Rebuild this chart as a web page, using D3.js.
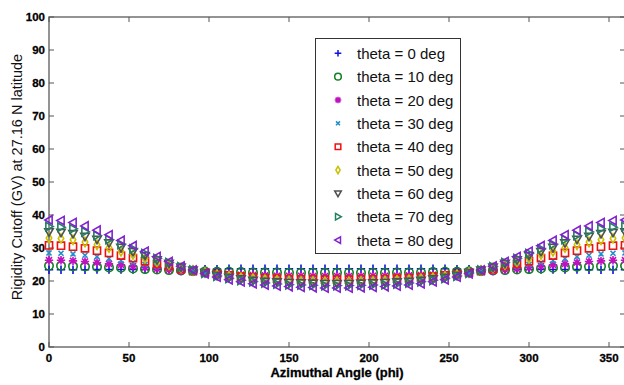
<!DOCTYPE html>
<html><head><meta charset="utf-8">
<script src="https://cdn.jsdelivr.net/npm/d3@7"></script>
<style>
html,body{margin:0;padding:0;background:#fff;}
svg{display:block;}
</style></head>
<body>
<svg id="chart" width="624" height="385"></svg>
<script>
const phi = [0,7.5,15,22.5,30,37.5,45,52.5,60,67.5,75,82.5,90,97.5,105,112.5,120,127.5,135,142.5,150,157.5,165,172.5,180,187.5,195,202.5,210,217.5,225,232.5,240,247.5,255,262.5,270,277.5,285,292.5,300,307.5,315,322.5,330,337.5,345,352.5,360];

const theta0  = [23.4,23.4,23.4,23.4,23.5,23.5,23.5,23.5,23.5,23.6,23.6,23.6,23.6,23.6,23.6,23.7,23.7,23.7,23.7,23.7,23.7,23.7,23.7,23.7,23.7,23.7,23.7,23.7,23.7,23.7,23.7,23.7,23.7,23.7,23.6,23.6,23.6,23.6,23.6,23.6,23.5,23.5,23.5,23.5,23.5,23.4,23.4,23.4,23.4];
const theta10 = [24.6,24.6,24.5,24.4,24.3,24.1,24.0,23.8,23.6,23.5,23.3,23.2,23.0,22.9,22.8,22.8,22.7,22.6,22.6,22.6,22.5,22.5,22.5,22.5,22.5,22.5,22.5,22.5,22.5,22.6,22.6,22.6,22.7,22.8,22.8,22.9,23.0,23.2,23.3,23.5,23.6,23.8,24.0,24.1,24.3,24.4,24.5,24.6,24.6];
const theta20 = [26.3,26.3,26.1,25.9,25.6,25.2,24.9,24.5,24.1,23.7,23.4,23.0,22.8,22.5,22.3,22.1,21.9,21.8,21.7,21.6,21.6,21.6,21.5,21.5,21.5,21.5,21.5,21.6,21.6,21.6,21.7,21.8,21.9,22.1,22.3,22.5,22.8,23.0,23.4,23.7,24.1,24.5,24.9,25.2,25.6,25.9,26.1,26.3,26.3];
const theta30 = [28.5,28.4,28.2,27.8,27.4,26.8,26.2,25.6,25.0,24.4,23.9,23.3,22.9,22.5,22.1,21.8,21.6,21.4,21.2,21.1,21.0,21.0,20.9,20.9,20.9,20.9,20.9,21.0,21.0,21.1,21.2,21.4,21.6,21.8,22.1,22.5,22.9,23.3,23.9,24.4,25.0,25.6,26.2,26.8,27.4,27.8,28.2,28.4,28.5];
const theta40 = [30.8,30.7,30.4,29.9,29.2,28.5,27.7,26.9,26.0,25.2,24.5,23.7,23.1,22.6,22.1,21.7,21.3,21.1,20.9,20.7,20.6,20.5,20.5,20.4,20.4,20.4,20.5,20.5,20.6,20.7,20.9,21.1,21.3,21.7,22.1,22.6,23.1,23.7,24.5,25.2,26.0,26.9,27.7,28.5,29.2,29.9,30.4,30.7,30.8];
const theta50 = [33.0,32.9,32.5,31.8,31.0,30.1,29.0,28.0,26.9,25.9,25.0,24.0,23.2,22.6,21.9,21.4,21.0,20.7,20.4,20.2,20.0,19.9,19.9,19.8,19.8,19.8,19.9,19.9,20.0,20.2,20.4,20.7,21.0,21.4,21.9,22.6,23.2,24.0,25.0,25.9,26.9,28.0,29.0,30.1,31.0,31.8,32.5,32.9,33.0];
const theta60 = [34.9,34.7,34.3,33.5,32.6,31.5,30.2,28.9,27.7,26.4,25.3,24.2,23.3,22.5,21.7,21.1,20.6,20.2,19.9,19.7,19.5,19.4,19.3,19.2,19.2,19.2,19.3,19.4,19.5,19.7,19.9,20.2,20.6,21.1,21.7,22.5,23.3,24.2,25.3,26.4,27.7,28.9,30.2,31.5,32.6,33.5,34.3,34.7,34.9];
const theta70 = [36.5,36.3,35.8,34.9,33.8,32.6,31.1,29.7,28.3,26.8,25.6,24.3,23.3,22.4,21.5,20.8,20.2,19.8,19.4,19.1,18.9,18.8,18.7,18.6,18.6,18.6,18.7,18.8,18.9,19.1,19.4,19.8,20.2,20.8,21.5,22.4,23.3,24.3,25.6,26.8,28.3,29.7,31.1,32.6,33.8,34.9,35.8,36.3,36.5];
const theta80 = [38.5,38.3,37.7,36.7,35.4,34.0,32.3,30.7,29.0,27.4,25.9,24.5,23.3,22.2,21.2,20.4,19.8,19.2,18.8,18.5,18.3,18.1,18.0,17.9,17.9,17.9,18.0,18.1,18.3,18.5,18.8,19.2,19.8,20.4,21.2,22.2,23.3,24.5,25.9,27.4,29.0,30.7,32.3,34.0,35.4,36.7,37.7,38.3,38.5];

const seriesLabels = ["theta = 0 deg","theta = 10 deg","theta = 20 deg","theta = 30 deg","theta = 40 deg","theta = 50 deg","theta = 60 deg","theta = 70 deg","theta = 80 deg"];
const seriesValues = [theta0,theta10,theta20,theta30,theta40,theta50,theta60,theta70,theta80];
const seriesMarkers = ["plus","circle","star","x","square","diamond","tridown","triright","trileft"];
const seriesColors = ["#1010e0","#108020","#c010c0","#2090c8","#f01010","#c8c000","#505050","#208060","#8020d0"];

const xTicks = [0,50,100,150,200,250,300,350];
const yTicks = [0,10,20,30,40,50,60,70,80,90,100];
const xTitle = "Azimuthal Angle (phi)";
const yTitle = "Rigidity Cutoff (GV) at 27.16 N latitude";

const svg = d3.select("#chart");
const L = 49, R = 625, T = 17, B = 347;
const x = d3.scaleLinear().domain([0,360]).range([L,R]);
const y = d3.scaleLinear().domain([0,100]).range([B,T]);

function markerPath(type, s){
  const p = d3.path();
  switch(type){
    case "plus": p.moveTo(-s,0);p.lineTo(s,0);p.moveTo(0,-s);p.lineTo(0,s);break;
    case "circle": p.moveTo(s,0);p.arc(0,0,s,0,2*Math.PI);break;
    case "star": {
      p.moveTo(-s,0);p.lineTo(s,0);p.moveTo(0,-s);p.lineTo(0,s);
      const d=s*0.72; p.moveTo(-d,-d);p.lineTo(d,d);p.moveTo(-d,d);p.lineTo(d,-d);break;}
    case "x": {const d=s*0.6; p.moveTo(-d,-d);p.lineTo(d,d);p.moveTo(-d,d);p.lineTo(d,-d);break;}
    case "square": {const d=s*0.85; p.rect(-d,-d,2*d,2*d);break;}
    case "diamond": p.moveTo(0,-s*1.1);p.lineTo(s*0.65,0);p.lineTo(0,s*1.1);p.lineTo(-s*0.65,0);p.closePath();break;
    case "tridown": p.moveTo(-s,-s*0.75);p.lineTo(s,-s*0.75);p.lineTo(0,s);p.closePath();break;
    case "triright": p.moveTo(-s*0.75,-s);p.lineTo(s,0);p.lineTo(-s*0.75,s);p.closePath();break;
    case "trileft": p.moveTo(s*0.75,-s);p.lineTo(-s,0);p.lineTo(s*0.75,s);p.closePath();break;
  }
  return p.toString();
}

// frame
svg.append("rect").attr("x",L).attr("y",T).attr("width",R-L).attr("height",B-T)
  .attr("fill","none").attr("stroke","#666").attr("stroke-width",1.4);

// ticks (inward, all four sides)
const tk = 5;
const axG = svg.append("g").attr("stroke","#555").attr("stroke-width",1);
xTicks.forEach(v=>{
  axG.append("line").attr("x1",x(v)).attr("x2",x(v)).attr("y1",B).attr("y2",B-tk);
  axG.append("line").attr("x1",x(v)).attr("x2",x(v)).attr("y1",T).attr("y2",T+tk);
});
yTicks.forEach(v=>{
  axG.append("line").attr("x1",L).attr("x2",L+tk).attr("y1",y(v)).attr("y2",y(v));
  axG.append("line").attr("x1",R).attr("x2",R-tk).attr("y1",y(v)).attr("y2",y(v));
});

const tickFont = "'Liberation Sans Narrow','Arial Narrow','Liberation Sans',Arial,sans-serif";
svg.append("g").selectAll("text").data(xTicks).join("text")
  .attr("x",d=>x(d)).attr("y",B+15).attr("text-anchor","middle")
  .attr("font-family",tickFont).attr("font-weight","bold").attr("font-size",11.5)
  .attr("fill","#000").attr("stroke","#000").attr("stroke-width",0.3).text(d=>d);
svg.append("g").selectAll("text").data(yTicks).join("text")
  .attr("x",L-4).attr("y",d=>y(d)+4).attr("text-anchor","end")
  .attr("font-family",tickFont).attr("font-weight","bold").attr("font-size",11.5)
  .attr("fill","#000").attr("stroke","#000").attr("stroke-width",0.3).text(d=>d);

svg.append("text").attr("x",337).attr("y",377).attr("text-anchor","middle")
  .attr("font-family",tickFont).attr("font-weight","bold").attr("font-size",13)
  .attr("fill","#000").attr("stroke","#000").attr("stroke-width",0.3).text(xTitle);
svg.append("text").attr("transform","translate(22,177) rotate(-90)").attr("text-anchor","middle")
  .attr("font-family","'Liberation Sans',Arial,sans-serif").attr("font-size",14.5)
  .attr("fill","#111").text(yTitle);

// data
seriesValues.forEach((vals,i)=>{
  svg.append("g").selectAll("path").data(vals).join("path")
    .attr("transform",(d,j)=>`translate(${x(phi[j])},${y(d)})`)
    .attr("d",markerPath(seriesMarkers[i],4.2))
    .attr("fill","none").attr("stroke",seriesColors[i]).attr("stroke-width",1.6);
});

// legend
const lg = svg.append("g");
lg.append("rect").attr("x",315.5).attr("y",38.5).attr("width",145).attr("height",215)
  .attr("fill","#fff").attr("stroke","#333").attr("stroke-width",1);
seriesLabels.forEach((lab,i)=>{
  const cy = 53.3 + i*23.35;
  lg.append("path").attr("transform",`translate(338,${cy})`)
    .attr("d",markerPath(seriesMarkers[i],3.3))
    .attr("fill","none").attr("stroke",seriesColors[i]).attr("stroke-width",1.5);
  lg.append("text").attr("x",357).attr("y",cy+5.5)
    .attr("font-family","'Liberation Sans',Arial,sans-serif").attr("font-size",15)
    .attr("fill","#111").text(lab);
});
</script>
</body></html>
